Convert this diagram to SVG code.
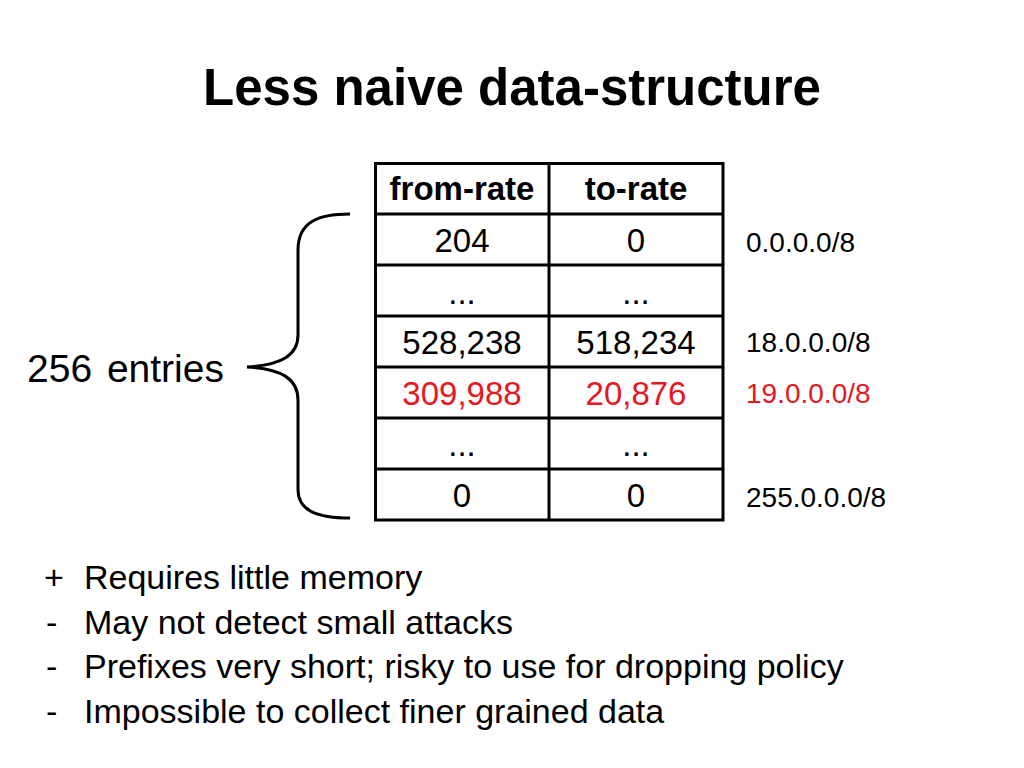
<svg xmlns="http://www.w3.org/2000/svg" width="1024" height="768" viewBox="0 0 1024 768">
<style>
text{font-family:"Liberation Sans",Arial,sans-serif;fill:#000}
.title{font-size:51px;font-weight:bold}
.hd{font-size:33px;font-weight:bold;text-anchor:middle}
.cell{font-size:33px;text-anchor:middle}
.pref{font-size:28px}
.red{fill:#e8161e}
.bul{font-size:34px}
.grid{fill:none;stroke:#000;stroke-width:3}
</style>
<rect width="1024" height="768" fill="#fff"/>
<text class="title" x="512" y="105" text-anchor="middle">Less naive data-structure</text>
<g id="table">
<rect class="grid" x="375.5" y="163.5" width="347.5" height="356.5"/>
<path class="grid" d="M549,163.5V520M375.5,214H723M375.5,265H723M375.5,316H723M375.5,367H723M375.5,418H723M375.5,469H723"/>
<text class="hd" x="462" y="200">from-rate</text>
<text class="hd" x="636" y="200">to-rate</text>
<text class="cell" x="462" y="252">204</text>
<text class="cell" x="636" y="252">0</text>
<text class="cell" x="462" y="304">...</text>
<text class="cell" x="636" y="304">...</text>
<text class="cell" x="462" y="354">528,238</text>
<text class="cell" x="636" y="354">518,234</text>
<text class="cell red" x="462" y="405">309,988</text>
<text class="cell red" x="636" y="405">20,876</text>
<text class="cell" x="462" y="456">...</text>
<text class="cell" x="636" y="456">...</text>
<text class="cell" x="462" y="507">0</text>
<text class="cell" x="636" y="507">0</text>
</g>
<g id="prefixes">
<text class="pref" x="746" y="252">0.0.0.0/8</text>
<text class="pref" x="746" y="352">18.0.0.0/8</text>
<text class="pref red" x="746" y="403">19.0.0.0/8</text>
<text class="pref" x="746" y="507">255.0.0.0/8</text>
</g>
<g id="brace">
<path class="grid" d="M350,214C318,214 298,222 298,250L298,335C298,355 282,365 247,367C282,369 298,379 298,400L298,490C298,511 318,518 350,518"/>
<text x="27" y="382" font-size="39" word-spacing="4">256 entries</text>
</g>
<g id="bullets">
<text class="bul" x="44" y="589">+</text>
<text class="bul" x="84" y="589">Requires little memory</text>
<text class="bul" x="46" y="634">-</text>
<text class="bul" x="84" y="634">May not detect small attacks</text>
<text class="bul" x="46" y="678">-</text>
<text class="bul" x="84" y="678">Prefixes very short; risky to use for dropping policy</text>
<text class="bul" x="46" y="723">-</text>
<text class="bul" x="84" y="723">Impossible to collect finer grained data</text>
</g>
</svg>
